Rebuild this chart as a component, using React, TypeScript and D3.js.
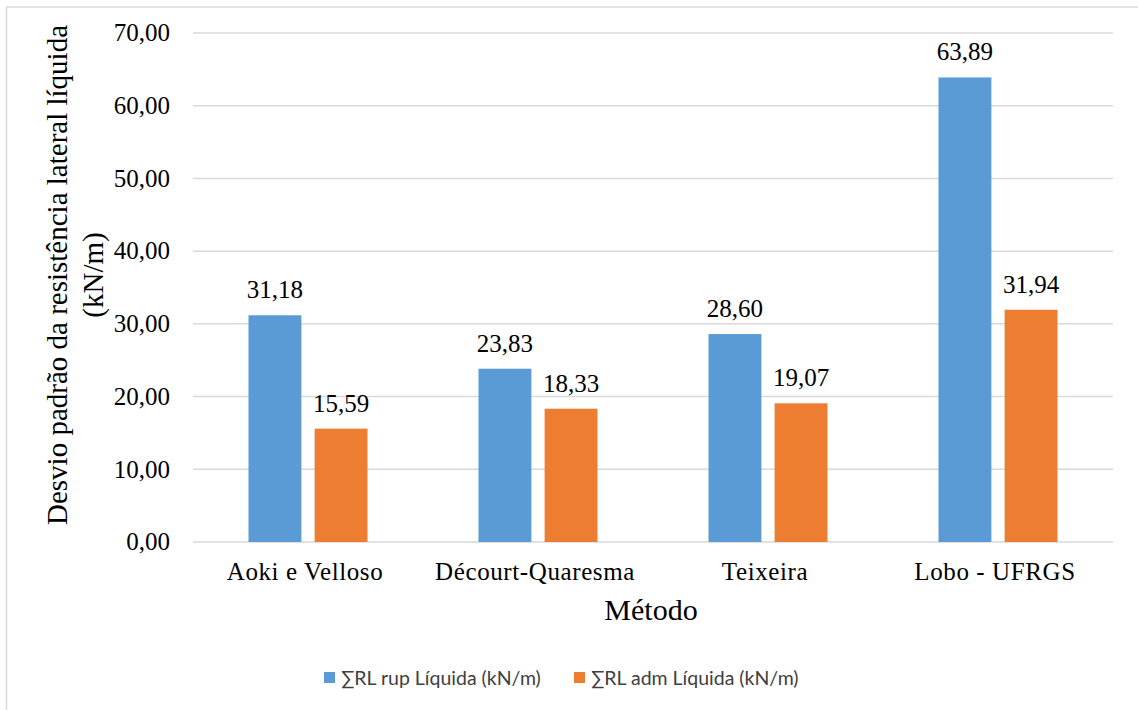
import React from 'react';
import * as d3 from 'd3';

const categories = ['Aoki e Velloso', 'Décourt-Quaresma', 'Teixeira', 'Lobo - UFRGS'];
const seriesNames = ['∑RL rup Líquida (kN/m)', '∑RL adm Líquida (kN/m)'];
const rupValues = [31.18, 23.83, 28.6, 63.89];
const admValues = [15.59, 18.33, 19.07, 31.94];
const yTicks = [0, 10, 20, 30, 40, 50, 60, 70];
const colors = ['#5B9BD5', '#ED7D31'];

const W = 1138;
const H = 710;
const serif = '"Liberation Serif", "Times New Roman", serif';
const fmt = (v: number) => v.toFixed(2).replace('.', ',');

export default function App() {
  const left = 193, right = 1113, top = 33, bottom = 542;

  const x = d3.scaleBand().domain(categories).range([left, right]);
  const inner = d3.scaleBand().domain(['0', '1']).range([0, 119]).paddingInner(0.2);
  const y = d3.scaleLinear().domain([0, 70]).range([bottom, top]);

  const rows = categories.map((c, i) => ({ c, vals: [rupValues[i], admValues[i]] }));
  const groupOffset = (x.bandwidth() - 119) / 2;

  return (
    <svg width={W} height={H} style={{ position: 'absolute', left: 0, top: 0, background: '#fff' }}>
      <rect x={6.5} y={7} width={W} height={H} fill="#fff" stroke="#d9d9d9" strokeWidth={1.5} />

      {yTicks.map(t => (
        <g key={t}>
          <line x1={left} x2={right} y1={y(t)} y2={y(t)} stroke="#d9d9d9" strokeWidth={1.5} />
          <text x={170} y={y(t)} dy="0.33em" textAnchor="end" fontFamily={serif} fontSize={25}>
            {fmt(t)}
          </text>
        </g>
      ))}

      {rows.map(r => (
        <g key={r.c} transform={`translate(${(x(r.c) as number) + groupOffset},0)`}>
          {r.vals.map((v, j) => (
            <g key={j}>
              <rect
                x={inner(String(j))}
                y={y(v)}
                width={inner.bandwidth()}
                height={y(0) - y(v)}
                fill={colors[j]}
              />
              <text
                x={(inner(String(j)) as number) + inner.bandwidth() / 2}
                y={y(v) - 17}
                textAnchor="middle"
                fontFamily={serif}
                fontSize={25}
              >
                {fmt(v)}
              </text>
            </g>
          ))}
          <text
            x={x.bandwidth() / 2 - groupOffset - 3}
            y={580}
            textAnchor="middle"
            fontFamily={serif}
            fontSize={25}
            letterSpacing={0.6}
          >
            {r.c}
          </text>
        </g>
      ))}

      <text x={651} y={620} textAnchor="middle" fontFamily={serif} fontSize={30}>
        Método
      </text>

      <g transform="translate(0,275) rotate(-90)" fontFamily={serif} fontSize={29} textAnchor="middle">
        <text x={0} y={67}>Desvio padrão da resistência lateral líquida</text>
        <text x={0} y={103}>(kN/m)</text>
      </g>

      {seriesNames.map((s, i) => (
        <g key={s} transform={`translate(${324 + i * 250},672)`}>
          <rect x={0} y={0} width={11} height={11} fill={colors[i]} />
          <text x={17} y={5.5} dy="0.36em" fontFamily='Lato, "Liberation Sans", sans-serif' fontSize={19.5} fill="#404040">
            {s}
          </text>
        </g>
      ))}
    </svg>
  );
}
